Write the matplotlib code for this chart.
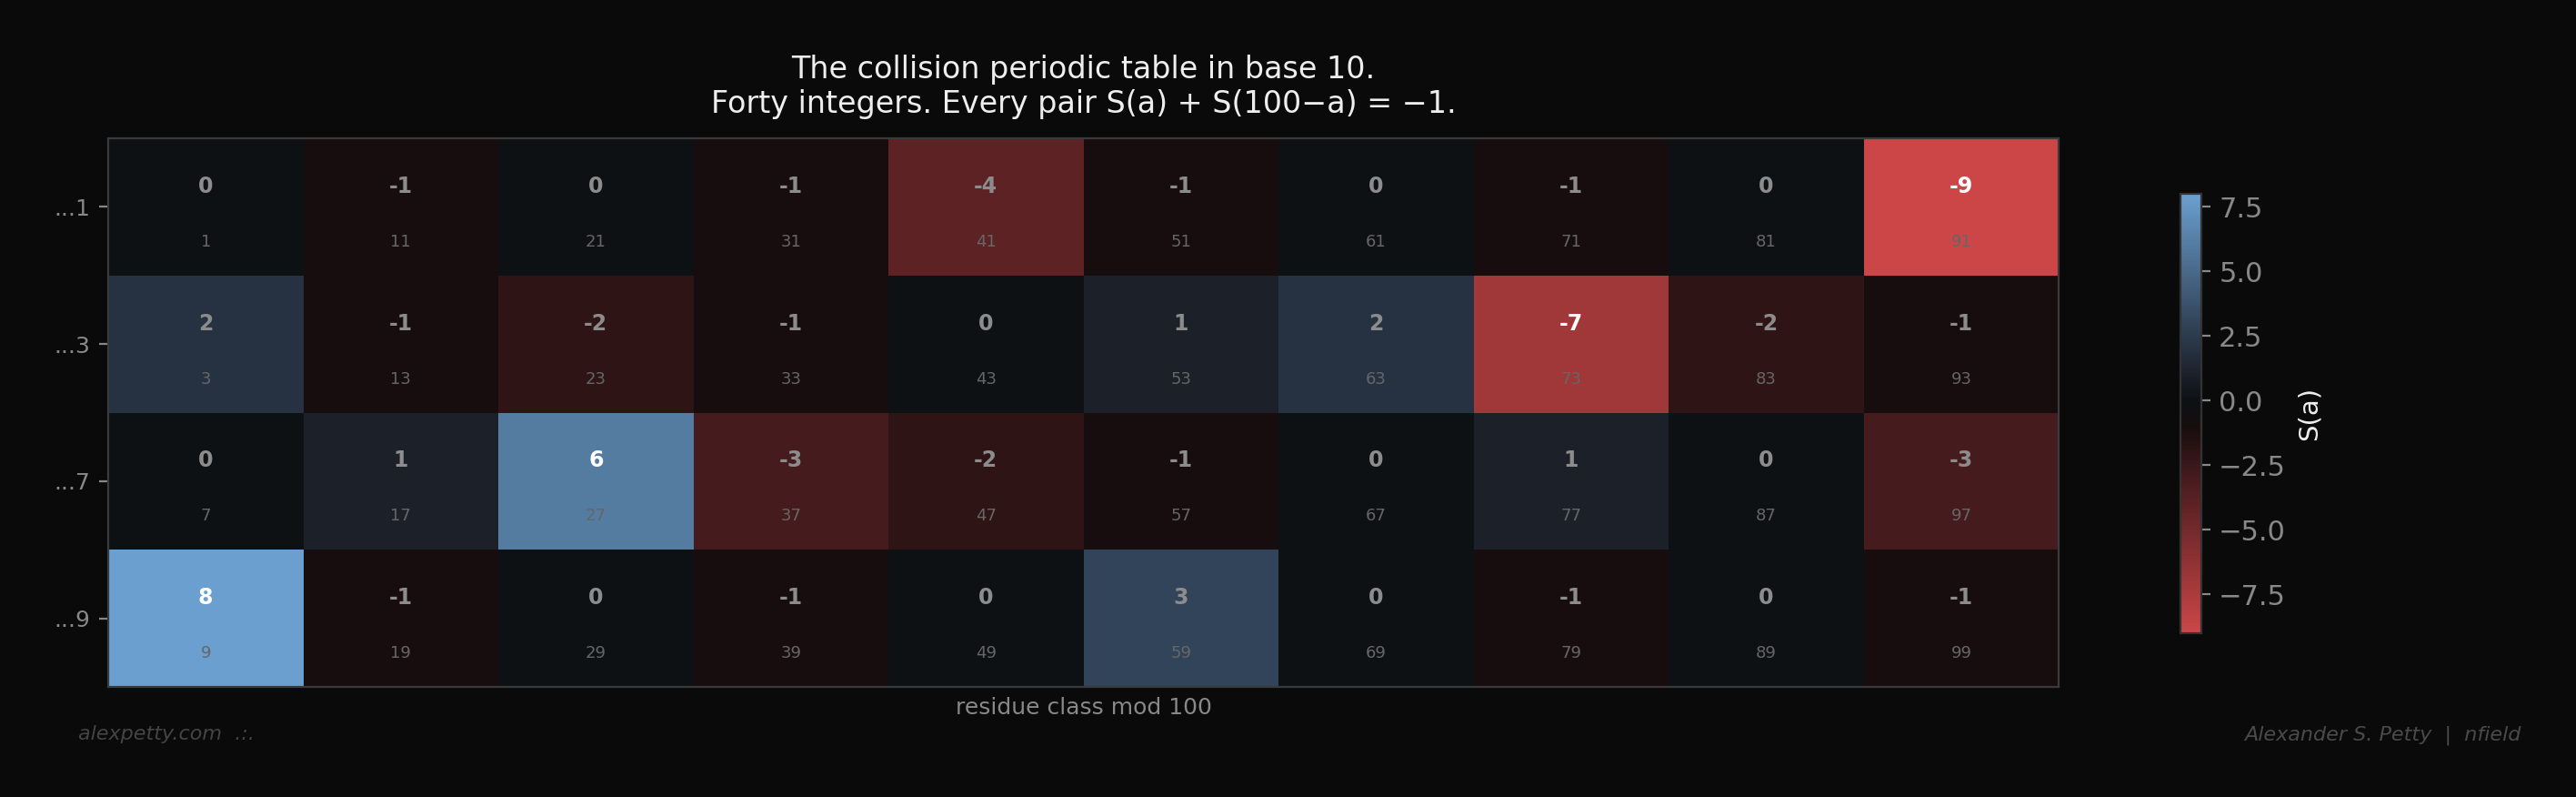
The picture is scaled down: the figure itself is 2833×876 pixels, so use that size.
import matplotlib
matplotlib.use("Agg")
import matplotlib.pyplot as plt
import numpy as np
from matplotlib.colors import LinearSegmentedColormap, Normalize
from matplotlib.ticker import MultipleLocator

# residue classes mod 100: rows = last digit, columns = tens digit
last_digits = [1, 3, 7, 9]
row_labels = ["...1", "...3", "...7", "...9"]
tens = list(range(10))

# S(a) for each residue class
s_row1 = [0, -1, 0, -1, -4, -1, 0, -1, 0, -9]
s_row3 = [2, -1, -2, -1, 0, 1, 2, -7, -2, -1]
s_row7 = [0, 1, 6, -3, -2, -1, 0, 1, 0, -3]
s_row9 = [8, -1, 0, -1, 0, 3, 0, -1, 0, -1]

S = np.array([s_row1, s_row3, s_row7, s_row9])
vmin, vmax = S.min(), S.max()

bg = "#0a0a0a"

# red -> near black -> blue, anchored on the data range
stops = [(-9, "#cc4647"), (-4, "#5d2224"), (-1, "#170d0e"),
         (0, "#0d1114"), (1, "#1b2029"), (8, "#6b9fd0")]
cmap = LinearSegmentedColormap.from_list(
    "collision", [((v - vmin) / (vmax - vmin), c) for v, c in stops])
norm = Normalize(vmin, vmax)

fig = plt.figure(figsize=(14.165, 4.38), dpi=200, facecolor=bg)
ax = fig.add_axes([0.0420, 0.1381, 0.7572, 0.6884])
ax.set_facecolor(bg)

mesh = ax.pcolormesh(np.arange(len(tens) + 1), np.arange(len(last_digits) + 1), S,
                     cmap=cmap, norm=norm, linewidth=0, antialiased=False)
ax.set_xlim(0, len(tens))
ax.set_ylim(len(last_digits), 0)

for r, d in enumerate(last_digits):
    for c, t in enumerate(tens):
        v = S[r, c]
        col = "#ffffff" if abs(v) >= 5 else "#8c8c8c"
        ax.text(c + 0.5, r + 0.35, str(v), ha="center", va="center",
                fontsize=8.5, fontweight="bold", color=col)
        ax.text(c + 0.5, r + 0.755, str(10 * t + d), ha="center", va="center",
                fontsize=6.5, color="#666666")

ax.set_xticks([])
ax.set_yticks(np.arange(len(last_digits)) + 0.5)
ax.set_yticklabels(row_labels)
ax.tick_params(axis="y", colors="#888888", labelsize=9)
for s in ax.spines.values():
    s.set_edgecolor("#3a3a3a")
ax.set_xlabel("residue class mod 100", color="#888888", fontsize=9)

cax = fig.add_axes([0.8464, 0.2055, 0.0081, 0.5514])
cb = fig.colorbar(mesh, cax=cax)
cb.outline.set_edgecolor("#333333")
cb.ax.yaxis.set_major_locator(MultipleLocator(2.5))
cb.ax.tick_params(colors="#888888", labelsize=11)
cb.set_label("S(a)", color="#eeeeee", fontsize=10.5, labelpad=4)

fig.text(0.4206, 0.9018, "The collision periodic table in base 10.",
         ha="center", va="baseline", fontsize=12, color="#eeeeee")
fig.text(0.4206, 0.8584, "Forty integers. Every pair S(a) + S(100\u2212a) = \u22121.",
         ha="center", va="baseline", fontsize=12, color="#eeeeee")

fig.text(0.0304, 0.0719, "alexpetty.com  .:.", ha="left", va="baseline",
         fontsize=8, style="italic", color="#444444")
fig.text(0.9785, 0.0719, "Alexander S. Petty  |  nfield", ha="right", va="baseline",
         fontsize=8, style="italic", color="#4a4a4a")

fig.savefig("out.png", dpi=200, facecolor=fig.get_facecolor())
